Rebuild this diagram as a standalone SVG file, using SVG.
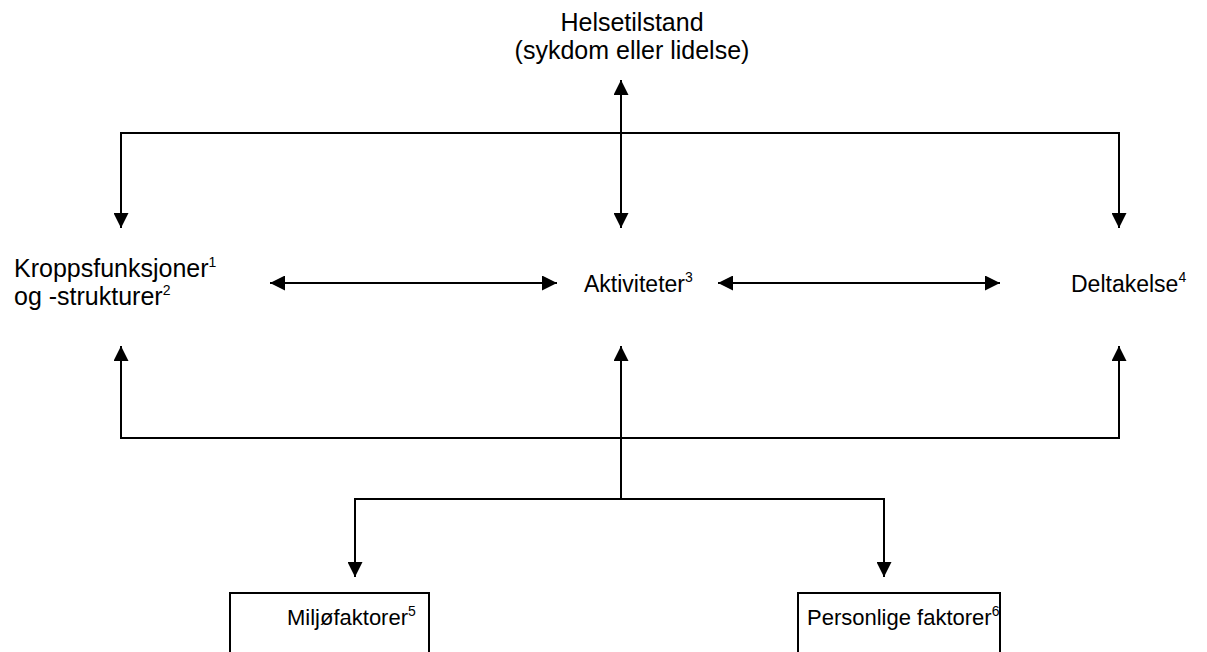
<svg xmlns="http://www.w3.org/2000/svg" width="1207" height="652" viewBox="0 0 1207 652">
<defs>
<marker id="ah" viewBox="0 0 10 10" refX="10" refY="5" markerWidth="15" markerHeight="15" markerUnits="userSpaceOnUse" orient="auto-start-reverse">
<path d="M0,0 L10,5 L0,10 z" fill="#000"/>
</marker>
<style>
text{font-family:"Liberation Sans",Arial,sans-serif;font-size:22px;fill:#000}
.big{font-size:25px}
.mid{font-size:23px}
.sup{font-size:14px}
.ln{stroke:#000;stroke-width:2;fill:none}
.box{stroke:#000;stroke-width:2;fill:#fff}
</style>
</defs>
<rect width="1207" height="652" fill="#fff"/>
<g id="connectors">
<path class="ln" d="M621,80 L621,228" marker-start="url(#ah)" marker-end="url(#ah)"/>
<path class="ln" d="M121,228 L121,133 L1119,133 L1119,228" marker-start="url(#ah)" marker-end="url(#ah)"/>
<path class="ln" d="M270,283 L557,283" marker-start="url(#ah)" marker-end="url(#ah)"/>
<path class="ln" d="M718,283 L1000,283" marker-start="url(#ah)" marker-end="url(#ah)"/>
<path class="ln" d="M121,346 L121,438 L1119,438 L1119,346" marker-start="url(#ah)" marker-end="url(#ah)"/>
<path class="ln" d="M621,499 L621,346" marker-end="url(#ah)"/>
<path class="ln" d="M355,577 L355,499 L884,499 L884,577" marker-start="url(#ah)" marker-end="url(#ah)"/>
</g>
<g id="helsetilstand">
<text class="big" x="632" y="31" text-anchor="middle">Helsetilstand</text>
<text class="big" x="632" y="59" text-anchor="middle">(sykdom eller lidelse)</text>
</g>
<g id="kroppsfunksjoner">
<text class="big" x="14" y="277">Kroppsfunksjoner<tspan class="sup" dy="-10">1</tspan></text>
<text class="big" x="14" y="305">og -strukturer<tspan class="sup" dy="-10">2</tspan></text>
</g>
<g id="aktiviteter">
<text class="mid" x="584" y="292">Aktiviteter<tspan class="sup" dy="-10">3</tspan></text>
</g>
<g id="deltakelse">
<text class="mid" x="1071" y="292">Deltakelse<tspan class="sup" dy="-10">4</tspan></text>
</g>
<g id="miljofaktorer">
<rect class="box" x="230" y="593" width="199" height="70"/>
<text x="287" y="625">Miljøfaktorer<tspan class="sup" dy="-9">5</tspan></text>
</g>
<g id="personlige">
<rect class="box" x="798" y="593" width="202" height="70"/>
<text x="807" y="625">Personlige faktorer<tspan class="sup" dy="-9">6</tspan></text>
</g>
</svg>
